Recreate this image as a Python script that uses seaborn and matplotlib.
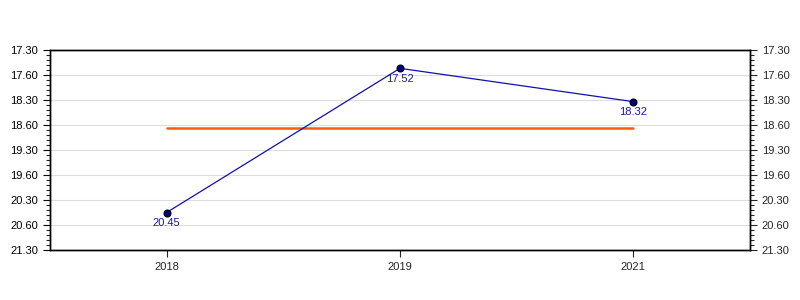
import matplotlib
matplotlib.use("Agg")
import matplotlib.pyplot as plt
import seaborn as sns
import pandas as pd
import numpy as np
from matplotlib.ticker import FixedLocator, FixedFormatter, MultipleLocator

sns.set_style("white")
plt.rcParams['font.family'] = ['Liberation Sans', 'DejaVu Sans']

years = ["2018", "2019", "2021"]
times_label = ["20.45", "17.52", "18.32"]   # min.sec
tick_labels = ["17.30", "17.60", "18.30", "18.60", "19.30", "19.60", "20.30", "20.60", "21.30"]

def to_minutes(s):
    m, sec = s.split(".")
    return int(m) + int(sec) / 60.0

minutes = [to_minutes(s) for s in times_label]
mean_val = float(np.mean(minutes))

df = pd.DataFrame({"year": years, "x": np.arange(len(years)), "minutes": minutes,
                   "label": times_label, "mean": [mean_val] * len(years)})

fig = plt.figure(figsize=(8, 3), dpi=100)
ax = fig.add_axes([50/800, 50/300, 700/800, 200/300])

sns.lineplot(data=df, x="x", y="mean", ax=ax, color="#ff5a0a", linewidth=1.8, zorder=2)
sns.lineplot(data=df, x="x", y="minutes", ax=ax, color="#1010b0", linewidth=0.9, zorder=3,
             marker="o", markersize=5, markerfacecolor="#000080", markeredgecolor="black",
             markeredgewidth=0.8)

for xi, yi, lab in zip(df["x"], df["minutes"], df["label"]):
    ax.annotate(lab, (xi, yi), xytext=(0, -7.5), textcoords="offset points",
                ha="center", va="center", fontsize=8, color="#1a1aa0")

major = [17.5 + 0.5 * i for i in range(len(tick_labels))]
ax.set_ylim(major[-1], major[0])
ax.set_xlim(-0.5, len(years) - 0.5)
ax.yaxis.set_major_locator(FixedLocator(major))
ax.yaxis.set_major_formatter(FixedFormatter(tick_labels))
ax.yaxis.set_minor_locator(MultipleLocator(0.1))
ax.set_xticks(df["x"])
ax.set_xticklabels(years)
ax.set_xlabel("")
ax.set_ylabel("")
ax.grid(axis="y", which="major", color="#dddddd", linewidth=0.8, zorder=0)
ax.set_axisbelow(True)

for s in ax.spines.values():
    s.set_color("black")
    s.set_linewidth(1.0)

ax.tick_params(axis="y", which="major", direction="out", length=5, width=0.8, labelsize=8, colors="black", left=True)
ax.tick_params(axis="y", which="minor", direction="out", length=3, width=0.8, left=True)
ax.tick_params(axis="x", which="major", direction="out", length=5, width=0.8, labelsize=8, bottom=True)

ax2 = ax.twinx()
ax2.set_ylim(ax.get_ylim())
ax2.yaxis.set_major_locator(FixedLocator(major))
ax2.yaxis.set_major_formatter(FixedFormatter(tick_labels))
ax2.yaxis.set_minor_locator(MultipleLocator(0.1))
ax2.tick_params(axis="y", which="major", direction="out", length=5, width=0.8, labelsize=8, right=True)
ax2.tick_params(axis="y", which="minor", direction="out", length=3, width=0.8, right=True)
for s in ax2.spines.values():
    s.set_color("black")
    s.set_linewidth(1.0)

fig.savefig("out.png", dpi=100)
